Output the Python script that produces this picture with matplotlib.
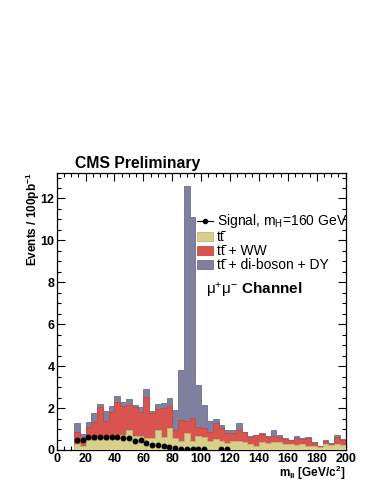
import numpy as np
import matplotlib
matplotlib.use("Agg")
import matplotlib.pyplot as plt
from matplotlib.ticker import MultipleLocator
from matplotlib.lines import Line2D

plt.rcParams['font.family'] = ['Liberation Sans', 'DejaVu Sans']
plt.rcParams['mathtext.fontset'] = 'custom'
plt.rcParams['mathtext.rm'] = 'Liberation Sans'
plt.rcParams['mathtext.it'] = 'Liberation Sans:italic'
plt.rcParams['mathtext.bf'] = 'Liberation Sans:bold'
plt.rcParams['mathtext.sf'] = 'Liberation Sans'

# ---- data (4 GeV bins from 12 to 200 GeV) ----
bin_low = 12
bin_high = 200
bin_width = 4

# cumulative stack levels
total_level = [1.27, 0.75, 1.33, 1.75, 2.20, 1.85, 2.08, 2.58, 2.28, 2.42,
               2.15, 2.05, 2.92, 1.85, 2.20, 2.24, 2.50, 1.90, 3.80, 12.60,
               11.10, 3.10, 2.15, 1.36, 1.50, 1.17, 0.93, 0.96, 1.28, 0.85,
               0.65, 0.73, 0.80, 0.65, 0.93, 0.73, 0.57, 0.49, 0.65, 0.57,
               0.60, 0.38, 0.20, 0.47, 0.32, 0.70, 0.52]
tt_ww_level = [0.88, 0.50, 1.12, 1.35, 2.06, 1.36, 1.80, 2.27, 2.12, 2.17,
               2.06, 1.82, 2.55, 1.75, 1.95, 1.98, 2.12, 0.96, 1.44, 1.39,
               1.52, 1.12, 1.04, 0.88, 1.28, 1.04, 0.80, 0.80, 0.96, 0.84,
               0.60, 0.70, 0.76, 0.60, 0.65, 0.60, 0.54, 0.46, 0.57, 0.54,
               0.57, 0.35, 0.17, 0.44, 0.28, 0.60, 0.46]
tt_level = [0.28, 0.18, 0.47, 0.47, 0.55, 0.50, 0.55, 0.72, 0.70, 0.95,
            0.65, 0.65, 0.57, 0.57, 0.95, 0.60, 1.03, 0.55, 0.41, 0.80,
            0.41, 0.65, 0.60, 0.44, 0.52, 0.41, 0.33, 0.44, 0.41, 0.36,
            0.28, 0.20, 0.36, 0.33, 0.36, 0.36, 0.28, 0.28, 0.22, 0.28,
            0.20, 0.17, 0.13, 0.28, 0.25, 0.28, 0.25]
nan = float('nan')
signal = [0.48, 0.48, 0.62, 0.63, 0.63, 0.62, 0.62, 0.63, 0.58, 0.55,
          0.43, 0.46, 0.34, 0.26, 0.25, 0.18, 0.14, 0.10, 0.07, 0.05,
          0.05, 0.05, 0.05, nan, nan, 0.04, 0.04, nan, nan, nan,
          nan, nan, nan, nan, nan, nan, nan, nan, nan, nan,
          nan, nan, nan, nan, nan, nan, nan]

TTBAR = "t\u0074\u0304"
labels = ["Signal, m$_{\\mathrm{H}}$=160 GeV",
          TTBAR,
          TTBAR + " + WW",
          TTBAR + " + di-boson + DY"]

edges = np.arange(bin_low, bin_high + bin_width, bin_width)
centers = 0.5 * (edges[:-1] + edges[1:])

c_grey = '#7f7f9f'
c_red = '#d9534f'
c_yel = '#d6d08a'

fig = plt.figure(figsize=(3.82, 4.94), dpi=100, facecolor='white')
ax = fig.add_axes([0.1484, 0.0891, 0.905 - 0.1484, 0.6504 - 0.0891])

h_grey = ax.stairs(total_level, edges, fill=True, facecolor=c_grey,
                   edgecolor='#6f6f8c', linewidth=0.6, zorder=1)
h_red = ax.stairs(tt_ww_level, edges, fill=True, facecolor=c_red,
                  edgecolor='#c04a47', linewidth=0.6, zorder=2)
h_yel = ax.stairs(tt_level, edges, fill=True, facecolor=c_yel,
                  edgecolor='#bdb878', linewidth=0.6, zorder=3)
ax.plot(centers, signal, 'o', color='black', ms=3.2, zorder=5)

ax.set_xlim(0, 200)
ax.set_ylim(0, 13.23)
ax.set_axisbelow(True)

ax.xaxis.set_major_locator(MultipleLocator(20))
ax.xaxis.set_minor_locator(MultipleLocator(5))
ax.yaxis.set_major_locator(MultipleLocator(2))
ax.yaxis.set_minor_locator(MultipleLocator(0.5))
ax.tick_params(which='both', direction='in', top=True, right=True, width=0.8)
ax.tick_params(which='major', length=6)
ax.tick_params(which='minor', length=3)
ax.tick_params(axis='x', which='major', labelsize=9, pad=2.5)
ax.tick_params(axis='y', which='major', labelsize=9, pad=1.5)
for lab in ax.get_xticklabels() + ax.get_yticklabels():
    lab.set_fontweight('bold')
for sp in ax.spines.values():
    sp.set_linewidth(0.9)

sig_handle = Line2D([], [], color='black', marker='o', ms=3, lw=0.8)
leg = ax.legend([sig_handle, h_yel, h_red, h_grey], labels,
                loc='upper left', bbox_to_anchor=(0.485, 0.857),
                frameon=False, fontsize=10, handlelength=1.15,
                handleheight=0.6, handletextpad=0.3, labelspacing=0.0,
                borderpad=0, borderaxespad=0)

ax.text(0.518, 0.575, "\u03bc$^{+}$\u03bc$^{-}$ $\\mathbf{Channel}$",
        transform=ax.transAxes, fontsize=11, ha='left', va='center')

ax.text(0.063, 1.016, "CMS Preliminary", transform=ax.transAxes,
        fontsize=11.3, fontweight='bold', ha='left', va='baseline')

ax.text(-0.082, 1.0, "Events / 100pb$^{\\mathbf{-1}}$", transform=ax.transAxes,
        rotation=90, fontsize=8.5, fontweight='bold', ha='center', va='top')
ax.text(1.0, -0.084, "m$_{\\mathbf{ll}}$ [GeV/c$^{\\mathbf{2}}$]",
        transform=ax.transAxes, fontsize=8.5, fontweight='bold',
        ha='right', va='center')

fig.savefig('out.png', dpi=100, facecolor='white')
